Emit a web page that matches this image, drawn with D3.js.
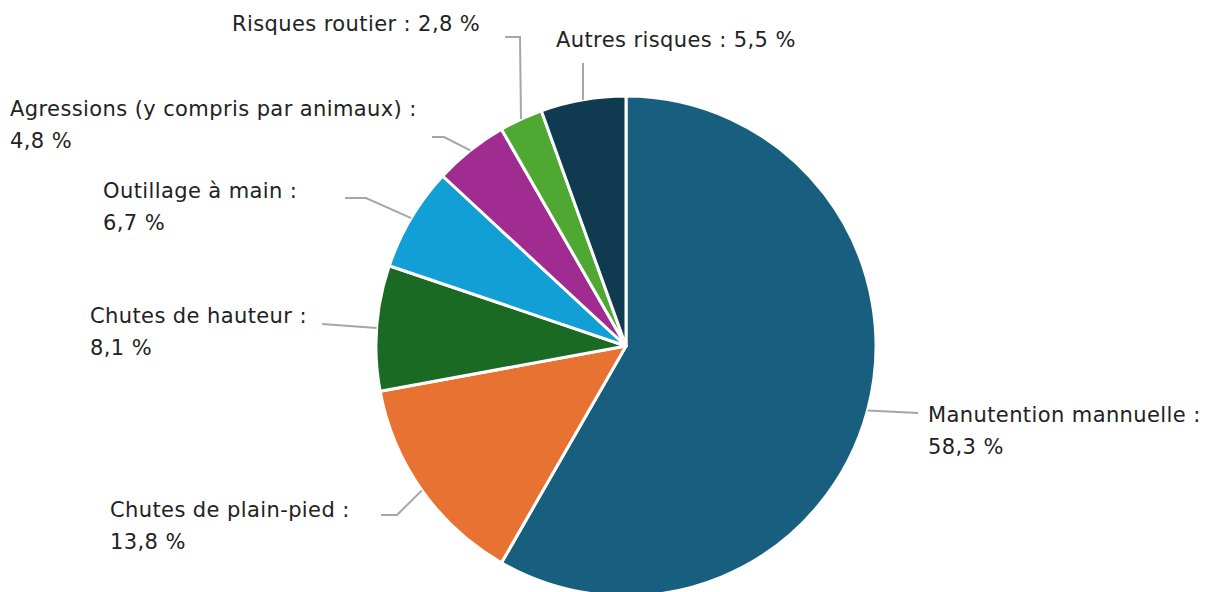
<!DOCTYPE html>
<html>
<head>
<meta charset="utf-8">
<script src="https://cdn.jsdelivr.net/npm/d3@7"></script>
<style>
  body { margin: 0; background: #fff; }
  .lbl { font-family: "DejaVu Sans", sans-serif; font-size: 21px; letter-spacing: 0.4px; fill: #222; }
</style>
</head>
<body>
<div id="chart"></div>
<script>
var svgWidth = 1220;
var svgHeight = 592;

// data
var categories = [
  "Manutention mannuelle :",
  "Chutes de plain-pied :",
  "Chutes de hauteur :",
  "Outillage à main :",
  "Agressions (y compris par animaux) :",
  "Risques routier :",
  "Autres risques :"
];
var values = [58.3, 13.8, 8.1, 6.7, 4.8, 2.8, 5.5];
var valueLabels = ["58,3 %", "13,8 %", "8,1 %", "6,7 %", "4,8 %", "2,8 %", "5,5 %"];
var colors = ["#175e7f", "#e87232", "#1b6a24", "#129fd6", "#a02b91", "#4fa832", "#0f3a50"];

// label layout: connector elbow / end points, text anchor, single line or two lines
var labelLayout = [
  { pts: [[918, 413]], x: 928, y: 422, oneLine: false },
  { pts: [[397, 515], [381, 515]], x: 110, y: 517, oneLine: false },
  { pts: [[322, 324]], x: 90, y: 323, oneLine: false },
  { pts: [[366, 198], [345, 198]], x: 103, y: 198, oneLine: false },
  { pts: [[444, 137], [432, 137]], x: 10, y: 116, oneLine: false },
  { pts: [[520, 37], [505, 37]], x: 232, y: 31, oneLine: true },
  { pts: [[583, 63]], x: 556, y: 47, oneLine: true }
];

var cx = 626, cy = 346, radius = 250;

var svg = d3.select("#chart").append("svg")
  .attr("width", svgWidth)
  .attr("height", svgHeight);

var pieGroup = svg.append("g")
  .attr("transform", `translate(${cx}, ${cy})`);

var pie = d3.pie().sort(null).value(d => d);
var arcs = pie(values);

var arc = d3.arc().innerRadius(0).outerRadius(radius);
var outerArc = d3.arc().innerRadius(radius).outerRadius(radius);

pieGroup.selectAll("path")
  .data(arcs)
  .enter()
  .append("path")
  .attr("d", arc)
  .attr("fill", (d, i) => colors[i])
  .attr("stroke", "#fff")
  .attr("stroke-width", 3)
  .attr("stroke-linejoin", "round");

// connectors
var line = d3.line();
svg.append("g").selectAll("path")
  .data(arcs)
  .enter()
  .append("path")
  .attr("d", function (d, i) {
    var c = outerArc.centroid(d);
    var start = [c[0] + cx, c[1] + cy];
    return line([start].concat(labelLayout[i].pts));
  })
  .attr("fill", "none")
  .attr("stroke", "#a6a6a6")
  .attr("stroke-width", 2);

// labels
var labels = svg.append("g").selectAll("text")
  .data(arcs)
  .enter()
  .append("text")
  .attr("class", "lbl")
  .attr("x", (d, i) => labelLayout[i].x)
  .attr("y", (d, i) => labelLayout[i].y);

labels.each(function (d, i) {
  var t = d3.select(this);
  var lay = labelLayout[i];
  if (lay.oneLine) {
    t.text(categories[i] + " " + valueLabels[i]);
  } else {
    t.append("tspan").attr("x", lay.x).text(categories[i]);
    t.append("tspan").attr("x", lay.x).attr("dy", 32).text(valueLabels[i]);
  }
});
</script>
</body>
</html>
